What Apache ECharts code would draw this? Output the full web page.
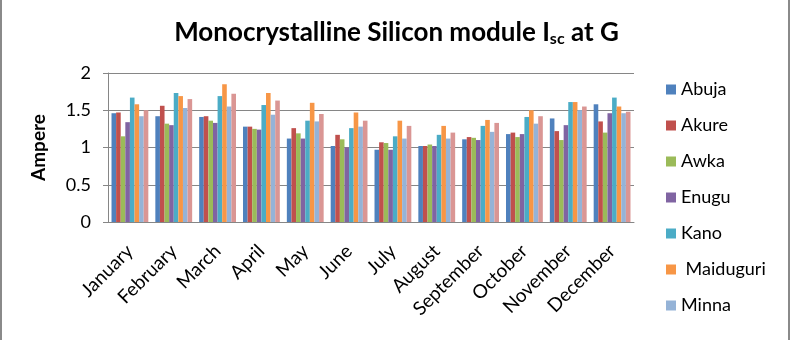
<!DOCTYPE html>
<html>
<head>
<meta charset="UTF-8">
<title>Monocrystalline Silicon module Isc</title>
<style type="text/css">
	html, body { margin: 0; padding: 0; background: #fff; }
	#main { width: 793px; height: 340px; }
</style>
</head>
<body>
<div id="main"></div>
<script src="https://cdn.jsdelivr.net/npm/echarts@6/dist/echarts.min.js"></script>
<script type="text/javascript">
	// months
	var months = ['January', 'February', 'March', 'April', 'May', 'June', 'July', 'August', 'September', 'October', 'November', 'December'];
	var yTicks = [0, 0.5, 1, 1.5, 2];
	// Isc per city (A)
	var abuja     = [1.46, 1.42, 1.41, 1.28, 1.12, 1.02, 0.97, 1.02, 1.11, 1.18, 1.39, 1.58];
	var akure     = [1.47, 1.56, 1.42, 1.28, 1.26, 1.17, 1.07, 1.02, 1.14, 1.20, 1.22, 1.35];
	var awka      = [1.15, 1.32, 1.36, 1.25, 1.19, 1.11, 1.06, 1.04, 1.13, 1.14, 1.10, 1.20];
	var enugu     = [1.34, 1.30, 1.33, 1.24, 1.12, 1.00, 0.97, 1.02, 1.10, 1.18, 1.30, 1.46];
	var kano      = [1.67, 1.73, 1.69, 1.57, 1.36, 1.26, 1.15, 1.17, 1.29, 1.41, 1.61, 1.67];
	var maiduguri = [1.58, 1.69, 1.85, 1.73, 1.60, 1.47, 1.36, 1.29, 1.37, 1.50, 1.61, 1.55];
	var minna     = [1.42, 1.53, 1.55, 1.44, 1.35, 1.28, 1.12, 1.12, 1.21, 1.32, 1.50, 1.46];
	var eighth    = [1.50, 1.65, 1.72, 1.63, 1.45, 1.36, 1.29, 1.20, 1.33, 1.42, 1.55, 1.48];

	var names = ['Abuja', 'Akure', 'Awka', 'Enugu', 'Kano', ' Maiduguri', 'Minna', ''];
	var values = [abuja, akure, awka, enugu, kano, maiduguri, minna, eighth];
	var colors = ['#4F81BD', '#C0504D', '#9BBB59', '#8064A2', '#4BACC6', '#F79646', '#95B3D7', '#DA9694'];
	var font = 'Lato';

	var series = [];
	for (var i = 0; i < values.length; i++) {
		series.push({
			name: names[i] || 'Series8',
			type: 'bar',
			data: values[i],
			barGap: '0%',
			barCategoryGap: '16%',
			itemStyle: { color: colors[i] },
			animation: false
		});
	}

	var myChart = echarts.init(document.getElementById('main'));
	var option = {
		animation: false,
		title: {
			text: '{a|Monocrystalline Silicon module I}{s|sc}{a| at G}',
			left: 'center',
			top: 12,
			textStyle: {
				rich: {
					a: { fontFamily: font, fontWeight: 'bold', fontSize: 26, color: '#000', lineHeight: 32 },
					s: { fontFamily: font, fontWeight: 'bold', fontSize: 16, color: '#000', lineHeight: 32, padding: [12, 0, 0, 0] }
				}
			}
		},
		legend: {
			orient: 'vertical',
			left: 661,
			top: 74,
			data: names.slice(0, 7),
			icon: 'rect',
			itemWidth: 10,
			itemHeight: 10,
			itemGap: 15,
			textStyle: { fontFamily: font, fontSize: 18, color: '#000', lineHeight: 21 }
		},
		grid: {
			left: 108,
			right: 159,
			top: 73,
			bottom: 118
		},
		xAxis: {
			type: 'category',
			data: months,
			axisLine: { lineStyle: { color: '#868686' } },
			axisTick: { show: false },
			axisLabel: {
				rotate: 45,
				interval: 0,
				margin: 26,
				fontFamily: font,
				fontSize: 19,
				color: '#000'
			}
		},
		yAxis: {
			type: 'value',
			min: yTicks[0],
			max: yTicks[yTicks.length - 1],
			interval: 0.5,
			name: 'Ampere',
			nameLocation: 'middle',
			nameGap: 60,
			nameTextStyle: { fontFamily: font, fontWeight: 'bold', fontSize: 19, color: '#000' },
			axisLine: { show: true, lineStyle: { color: '#868686' } },
			axisTick: { show: true, inside: false, length: 5, lineStyle: { color: '#868686' } },
			splitLine: { lineStyle: { color: '#868686' } },
			axisLabel: { fontFamily: font, fontSize: 18, color: '#000', margin: 17 }
		},
		graphic: [
			{ type: 'line', shape: { x1: 1, y1: 0, x2: 1, y2: 340 }, style: { stroke: '#8a8a8a', lineWidth: 2 } },
			{ type: 'line', shape: { x1: 789, y1: 0, x2: 789, y2: 340 }, style: { stroke: '#8a8a8a', lineWidth: 2 } }
		],
		series: series
	};
	myChart.setOption(option);
</script>
</body>
</html>
